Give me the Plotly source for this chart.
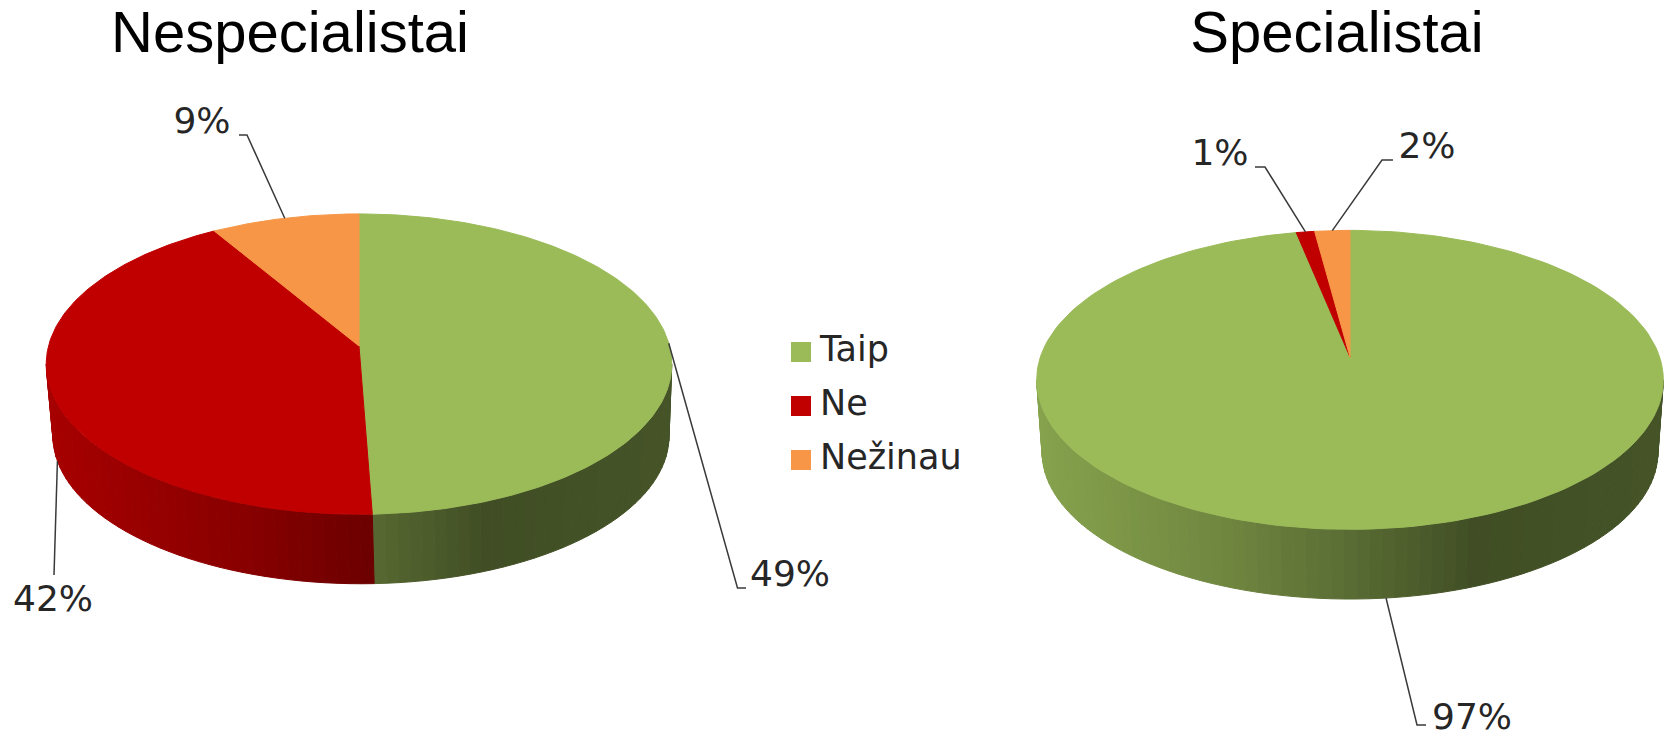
import numpy as np
import plotly.graph_objects as go

categories = ['Taip', 'Ne', 'Nežinau']
colors = ['#9BBB59', '#C00000', '#F79646']

titles = ['Nespecialistai', 'Specialistai']
# shares as the slices are drawn, labels round them
nespecialistai_values = [49.4, 42.0, 8.6]
specialistai_values = [96.8, 1.1, 2.1]

wall_t = [0, 0.3, 0.5, 0.7, 1]
wall_shade = [0.87, 0.72, 0.58, 0.42, 0.45]

# pixel geometry of the two discs
pies = [
    dict(cx=359, vy=346, a=310.5, b=148, k=0.1205, cx2=361, vy2=418, s2=0.985, title_x=290),
    dict(cx=1350, vy=357, a=309.6, b=146, k=0.153, cx2=1350, vy2=429.6, s2=0.983, title_x=1337),
]
# elbow start, elbow end, label centre for each slice label
leaders = [
    [((737.5, 588), (746, 588), (790, 577)), ((54, 575), (54, 575), (53, 602)), ((247, 135), (239, 135), (202, 124))],
    [((1417, 725), (1426, 725), (1472, 720)), ((1265, 167), (1255, 167), (1220, 156)), ((1382, 160), (1393, 160), (1427, 149))],
]
legend_x = 801
legend_text_x = 820
legend_y = [352, 406, 460]

label_font = dict(family='DejaVu Sans', size=36, color='#262626')


def rim(theta, p, bottom=False):
    u = np.sin(theta)
    v = np.cos(theta)
    w = 1 / (1 + p['k'] * v)
    if bottom:
        return p['cx2'] + p['a'] * p['s2'] * u * w, p['vy2'] - p['b'] * p['s2'] * v * w
    return p['cx'] + p['a'] * u * w, p['vy'] - p['b'] * v * w


def shade(color, f):
    r, g, b = [int(color[i:i + 2], 16) for i in (1, 3, 5)]
    return f'rgb({int(r * f)},{int(g * f)},{int(b * f)})'


def polygon(x, y, color):
    return go.Scatter(x=x, y=y, mode='lines', fill='toself', fillcolor=color,
                      line=dict(color=color, width=1), hoverinfo='skip', showlegend=False)


fig = go.Figure()

for p, values, leader, title in zip(pies, [nespecialistai_values, specialistai_values], leaders, titles):
    edges = np.radians(np.cumsum([0] + values) * 3.6)
    wall_start = np.pi / 2 + np.arcsin(p['k'])
    wall_end = 2 * np.pi - wall_start
    left = p['cx'] - p['a'] / np.sqrt(1 - p['k'] ** 2)
    width = 2 * (p['cx'] - left)

    # side wall first, cut in thin strips for the gradient
    for i, color in enumerate(colors):
        start = max(edges[i], wall_start)
        end = min(edges[i + 1], wall_end)
        if end <= start:
            continue
        n = max(int(np.degrees(end - start) / 2), 1)
        steps = np.linspace(start, end, n + 1)
        for t0, t1 in zip(steps[:-1], steps[1:]):
            x0, y0 = rim(t0, p)
            x1, y1 = rim(t1, p)
            x2, y2 = rim(t1, p, bottom=True)
            x3, y3 = rim(t0, p, bottom=True)
            f = np.interp(((x0 + x1) / 2 - left) / width, wall_t, wall_shade)
            fig.add_trace(polygon([x0, x1, x2, x3, x0], [y0, y1, y2, y3, y0], shade(color, f)))

    # top of the disc
    for i, color in enumerate(colors):
        thetas = np.linspace(edges[i], edges[i + 1], 200)
        x, y = rim(thetas, p)
        fig.add_trace(polygon([p['cx'], *x, p['cx']], [p['vy'], *y, p['vy']], color))

    # leader lines start at the rim under each slice's middle
    for i, (elbow, end, label) in enumerate(leader):
        mid = (edges[i] + edges[i + 1]) / 2
        ax, ay = rim(mid, p, bottom=np.cos(mid) < -0.1)
        fig.add_trace(go.Scatter(x=[ax, elbow[0], end[0]], y=[ay, elbow[1], end[1]], mode='lines',
                                 line=dict(color='#3a3a3a', width=1.5), hoverinfo='skip', showlegend=False))
        fig.add_trace(go.Scatter(x=[label[0]], y=[label[1]], mode='text', text=[f'{round(values[i])}%'],
                                 textposition='middle center', textfont=label_font,
                                 hoverinfo='skip', showlegend=False))

    fig.add_trace(go.Scatter(x=[p['title_x']], y=[37], mode='text', text=[title], textposition='middle center',
                             textfont=dict(family='Liberation Sans', size=58, color='#000000'),
                             hoverinfo='skip', showlegend=False))

for name, color, y in zip(categories, colors, legend_y):
    fig.add_trace(go.Scatter(x=[legend_x], y=[y], mode='markers', name=name, showlegend=False,
                             marker=dict(symbol='square', size=20, color=color)))
    fig.add_trace(go.Scatter(x=[legend_text_x], y=[y], mode='text', text=[name], textposition='middle right',
                             textfont=dict(family='DejaVu Sans', size=35, color='#262626'),
                             hoverinfo='skip', showlegend=False))

fig.update_layout(width=1671, height=737, margin=dict(l=0, r=0, t=0, b=0),
                  paper_bgcolor='white', plot_bgcolor='white', showlegend=False,
                  xaxis=dict(range=[0, 1671], visible=False, fixedrange=True),
                  yaxis=dict(range=[737, 0], visible=False, fixedrange=True))
for trace in fig.data:
    trace.cliponaxis = False

fig.write_html("out.html", config=dict(displayModeBar=False),
               post_script="document.body.style.margin='0';document.body.style.overflow='hidden';")
